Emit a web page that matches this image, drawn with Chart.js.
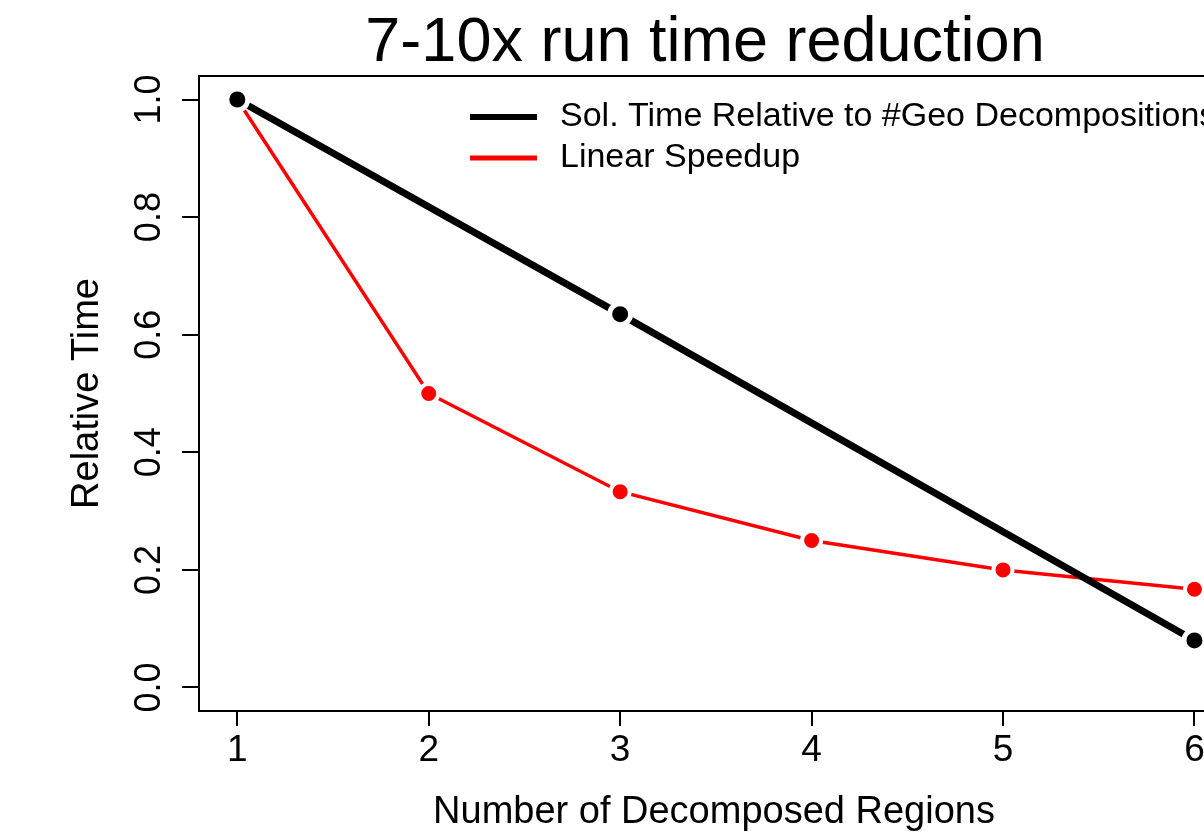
<!DOCTYPE html>
<html>
<head>
<meta charset="utf-8">
<script src="https://cdn.jsdelivr.net/npm/chart.js@4"></script>
<style>
  html, body { margin: 0; padding: 0; background: #fff; overflow: hidden; }
  #wrap { position: absolute; left: 0; top: 0; width: 1410px; height: 837px; }
</style>
</head>
<body>
<div id="wrap"><canvas id="speedChart" width="1410" height="837"></canvas></div>
<script>
// data
var xTicks = [1, 2, 3, 4, 5, 6];
var yTicks = [0.0, 0.2, 0.4, 0.6, 0.8, 1.0];
var solX = [1, 3, 6];
var solTime = [1.0, 0.635, 0.08];
var linX = [1, 2, 3, 4, 5, 6];
var linTime = [1.0, 0.5, 0.333, 0.25, 0.2, 0.167];
var seriesNames = ['Sol. Time Relative to #Geo Decompositions', 'Linear Speedup'];
var xTitle = 'Number of Decomposed Regions';

function toPoints(xs, ys) {
  return xs.map(function (x, i) { return { x: x, y: ys[i] }; });
}

var font = "'Liberation Sans', Arial, sans-serif";

// box around plot, rotated y labels, x title, legend
var extras = {
  id: 'extras',
  afterDraw: function (chart) {
    var ctx = chart.ctx;
    var a = chart.chartArea;
    ctx.save();
    ctx.strokeStyle = '#000';
    ctx.lineWidth = 2;
    ctx.strokeRect(a.left, a.top, a.right - a.left, a.bottom - a.top);

    var ys = chart.scales.y;
    ctx.fillStyle = '#000';
    ctx.font = '36px ' + font;
    ctx.textAlign = 'center';
    ctx.textBaseline = 'middle';
    yTicks.forEach(function (v) {
      ctx.save();
      ctx.translate(150, ys.getPixelForValue(v));
      ctx.rotate(-Math.PI / 2);
      ctx.fillText(v.toFixed(1), 0, 0);
      ctx.restore();
    });

    ctx.font = '38px ' + font;
    ctx.fillText(xTitle, 714, 813);

    // legend
    ctx.textAlign = 'left';
    ctx.font = '34px ' + font;
    chart.data.datasets.forEach(function (ds, i) {
      var y = 117 + i * 41;
      ctx.strokeStyle = ds.borderColor;
      ctx.lineWidth = i === 0 ? 6 : 5;
      ctx.beginPath();
      ctx.moveTo(470, y);
      ctx.lineTo(537, y);
      ctx.stroke();
      ctx.fillStyle = '#000';
      ctx.fillText(ds.label, 560, y);
    });
    ctx.restore();
  }
};

var ctx = document.getElementById('speedChart').getContext('2d');
var speedChart = new Chart(ctx, {
  type: 'line',
  data: {
    datasets: [
      {
        label: seriesNames[0],
        data: toPoints(solX, solTime),
        borderColor: '#000000',
        backgroundColor: '#000000',
        borderWidth: 7,
        pointRadius: 10.5,
        pointBorderColor: '#ffffff',
        pointBorderWidth: 5,
        tension: 0
      },
      {
        label: seriesNames[1],
        data: toPoints(linX, linTime),
        borderColor: '#ff0000',
        backgroundColor: '#ff0000',
        borderWidth: 3.5,
        pointRadius: 9.5,
        pointBorderColor: '#ffffff',
        pointBorderWidth: 4,
        tension: 0
      }
    ]
  },
  options: {
    responsive: false,
    animation: false,
    layout: { padding: 0 },
    plugins: {
      legend: { display: false },
      tooltip: { enabled: false },
      title: {
        display: true,
        text: '7-10x run time reduction',
        color: '#000',
        font: { family: font, size: 63, weight: 'normal', lineHeight: 1 },
        padding: { top: 12, bottom: 1 }
      }
    },
    scales: {
      x: {
        type: 'linear',
        min: 0.8,
        max: 7.045,
        afterBuildTicks: function (scale) {
          scale.ticks = xTicks.map(function (v) { return { value: v }; });
        },
        afterFit: function (scale) { scale.height = 126; },
        grid: { drawOnChartArea: false, drawTicks: true, tickLength: 15, color: '#000', lineWidth: 2 },
        border: { display: false },
        ticks: { color: '#000', font: { family: font, size: 37 }, padding: 3, maxRotation: 0 }
      },
      y: {
        type: 'linear',
        min: -0.04,
        max: 1.04,
        afterBuildTicks: function (scale) {
          scale.ticks = yTicks.map(function (v) { return { value: v }; });
        },
        afterFit: function (scale) { scale.width = 199; },
        grid: { drawOnChartArea: false, drawTicks: true, tickLength: 17, color: '#000', lineWidth: 2 },
        border: { display: false },
        ticks: { color: 'rgba(0,0,0,0)', font: { family: font, size: 30 } },
        title: {
          display: true,
          text: 'Relative Time',
          color: '#000',
          font: { family: font, size: 38 },
          padding: { top: 65, bottom: 0 }
        }
      }
    }
  },
  plugins: [extras]
});
</script>
</body>
</html>
